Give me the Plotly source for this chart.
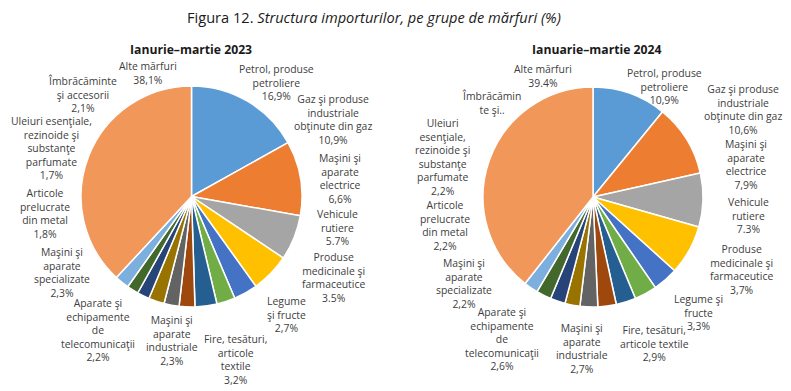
import plotly.graph_objects as go

W, H = 791, 391

# ---------------- data ----------------
names_2023 = [
    "Petrol, produse<br>petroliere",
    "Gaz şi produse<br>industriale<br>obţinute din gaz",
    "Maşini şi<br>aparate<br>electrice",
    "Vehicule<br>rutiere",
    "Produse<br>medicinale şi<br>farmaceutice",
    "Legume<br>şi fructe",
    "Fire, tesături,<br>articole<br>textile",
    "Maşini şi<br>aparate<br>industriale",
    "Aparate şi<br>echipamente<br>de<br>telecomunicaţii",
    "Maşini şi<br>aparate<br>specializate",
    "Articole<br>prelucrate<br>din metal",
    "Uleiuri esenţiale,<br>rezinoide şi<br>substanţe<br>parfumate",
    "Îmbrăcăminte<br>şi accesorii",
    "Alte mărfuri",
]
values_2023 = [16.9, 10.9, 6.6, 5.7, 3.5, 2.7, 3.2, 2.3, 2.2, 2.3, 1.8, 1.7, 2.1, 38.1]
sep_2023 = [",", ",", ",", ".", ".", ",", ",", ",", ",", ",", ",", ",", ",", ","]

names_2024 = [
    "Petrol, produse<br>petroliere",
    "Gaz şi produse<br>industriale<br>obţinute din gaz",
    "Maşini şi<br>aparate<br>electrice",
    "Vehicule<br>rutiere",
    "Produse<br>medicinale şi<br>farmaceutice",
    "Legume şi<br>fructe",
    "Fire, tesături,<br>articole textile",
    "Maşini şi<br>aparate<br>industriale",
    "Aparate şi<br>echipamente<br>de<br>telecomunicaţii",
    "Maşini şi<br>aparate<br>specializate",
    "Articole<br>prelucrate<br>din metal",
    "Uleiuri<br>esenţiale,<br>rezinoide şi<br>substanţe<br>parfumate",
    "Îmbrăcămin<br>te şi..",
    "Alte mărfuri",
]
values_2024 = [10.9, 10.6, 7.9, 7.3, 3.7, 3.3, 2.9, 2.7, 2.6, 2.2, 2.2, 2.2, 2.1, 39.4]
sep_2024 = [",", ",", ",", ".", ",", ",", ",", ",", ",", ",", ",", ",", None, "."]

colors = ["#5B9BD5", "#ED7D31", "#A5A5A5", "#FFC000", "#4472C4", "#70AD47",
          "#255E91", "#9E480E", "#636363", "#997300", "#264478", "#43682B",
          "#7CAFDD", "#F1975A"]

# label centre positions (pixels) – layout only
pos_2023 = [(276, 82), (333, 120), (340, 178), (337, 227), (333, 277), (286, 314),
            (235, 359), (172, 340), (98, 330), (62, 272), (45, 213), (52, 148),
            (82, 95), (148, 73)]
pos_2024 = [(664, 86), (743, 110), (746, 164), (748, 216), (741, 269), (698, 312),
            (654, 343), (582, 348), (502, 339), (464, 283), (445, 225), (442, 157),
            (492, 103), (543, 76)]

FONT = "Open Sans"
LABEL_COLOR = "#404040"

fig = go.Figure()

def add_pie(values, domain_px):
    (x0, x1, yt, yb) = domain_px
    fig.add_trace(go.Pie(
        values=values,
        sort=False,
        direction="clockwise",
        rotation=0,
        textinfo="none",
        hoverinfo="skip",
        showlegend=False,
        marker=dict(colors=colors, line=dict(color="white", width=1.5)),
        domain=dict(x=[x0 / W, x1 / W], y=[1 - yb / H, 1 - yt / H]),
    ))

add_pie(values_2023, (81, 302, 86, 307))
add_pie(values_2024, (483, 703, 87, 307))

def fmt(v, s):
    if s is None:
        return None
    return f"{v:.1f}".replace(".", s) + "%"

annotations = []
for names, vals, seps, poss in [(names_2023, values_2023, sep_2023, pos_2023),
                                 (names_2024, values_2024, sep_2024, pos_2024)]:
    for n, v, s, (px, py) in zip(names, vals, seps, poss):
        p = fmt(v, s)
        txt = n if p is None else f"{n}<br>{p}"
        annotations.append(dict(
            x=px / W, y=1 - py / H, xref="paper", yref="paper",
            text=txt, showarrow=False, xanchor="center", yanchor="middle",
            align="center", font=dict(family=FONT, size=10.4, color=LABEL_COLOR),
        ))

annotations.append(dict(
    x=373.5 / W, y=1 - 17 / H, xref="paper", yref="paper", showarrow=False,
    xanchor="center", yanchor="middle",
    text="Figura 12. <i>Structura importurilor, pe grupe de mărfuri (%)</i>",
    font=dict(family=FONT, size=14.6, color="#1a1a1a"),
))
annotations.append(dict(
    x=191 / W, y=1 - 49 / H, xref="paper", yref="paper", showarrow=False,
    xanchor="center", yanchor="middle", text="<b>Ianurie–martie 2023</b>",
    font=dict(family=FONT, size=12.2, color="#1a1a1a"),
))
annotations.append(dict(
    x=596 / W, y=1 - 50 / H, xref="paper", yref="paper", showarrow=False,
    xanchor="center", yanchor="middle", text="<b>Ianuarie–martie 2024</b>",
    font=dict(family=FONT, size=12.2, color="#1a1a1a"),
))

fig.update_layout(
    width=W, height=H,
    margin=dict(l=0, r=0, t=0, b=0),
    paper_bgcolor="white", plot_bgcolor="white",
    annotations=annotations,
)

fig.write_html("out.html", config={"displayModeBar": False},
               post_script="document.body.style.margin='0';")
